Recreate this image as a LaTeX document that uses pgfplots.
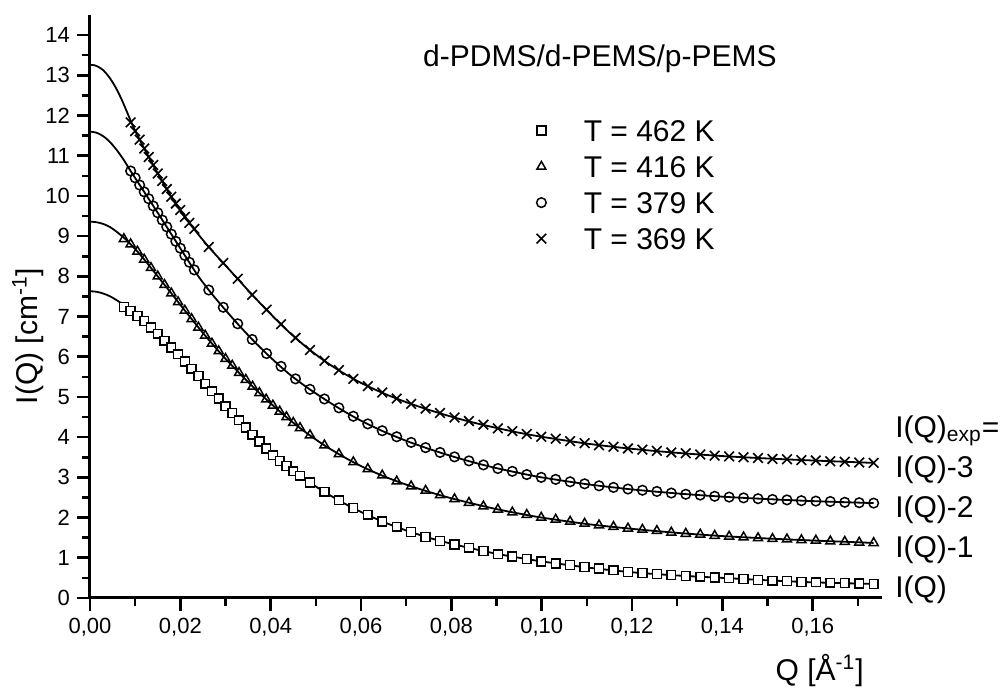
\documentclass[border=0pt]{standalone}
\usepackage{fontspec}
\setmainfont{Liberation Sans}
\usepackage{pgfplots}
\pgfplotsset{compat=1.18}

\begin{document}
\begin{tikzpicture}
\useasboundingbox (-45pt,-46pt) rectangle (456pt,299pt);
\begin{axis}[
    at={(0,0)}, anchor=south west,
    scale only axis,
    width=395.9pt, height=291.5pt,
    xmin=0, xmax=0.1753,
    ymin=0, ymax=14.5,
    clip=false,
    axis lines*=left,
    axis line style={line width=1.5pt},
    xtick={0,0.02,0.04,0.06,0.08,0.1,0.12,0.14,0.16},
    minor xtick={0.01,0.03,0.05,0.07,0.09,0.11,0.13,0.15,0.17},
    ytick={0,1,...,14},
    minor ytick={0.5,1.5,...,13.5},
    tick align=outside,
    major tick length=6.5pt,
    minor tick length=4pt,
    every tick/.style={black, line width=1.3pt},
    scaled x ticks=false,
    /pgf/number format/assume math mode=true,
    xticklabel style={/pgf/number format/.cd, fixed, fixed zerofill, precision=2, use comma},
    tick label style={font=\fontsize{11}{13}\selectfont},
    legend style={at={(axis cs:0.0985,11.92)}, anchor=north west, draw=none, fill=none,
        inner sep=0pt, row sep=6.5pt, font=\fontsize{15}{17}\selectfont,
        nodes={inner sep=0.5pt, text height=10.5pt, text depth=0pt}},
    legend cell align=left,
    legend image code/.code={\draw[#1] plot coordinates {(0cm,0cm)};\path (-0.1cm,0cm) (0.72cm,0cm);},
  ]

  % fit curves
  \addplot[smooth, line width=0.9pt, forget plot] coordinates {
    (0,7.63)(0.0015,7.615)(0.003,7.57)(0.0045,7.50)(0.006,7.40)(0.008,7.25)(0.010,7.08)(0.012,6.89)(0.014,6.68)(0.016,6.46)
    (0.018,6.23)(0.020,6.00)(0.022,5.76)(0.024,5.52)(0.026,5.27)(0.028,5.02)(0.030,4.77)(0.033,4.42)
    (0.036,4.06)(0.040,3.60)(0.044,3.23)(0.048,2.92)(0.052,2.63)(0.056,2.37)(0.060,2.14)(0.065,1.89)
    (0.070,1.68)(0.075,1.50)(0.080,1.35)(0.085,1.22)(0.090,1.10)(0.095,1.00)(0.100,0.91)(0.110,0.76)
    (0.120,0.64)(0.130,0.56)(0.140,0.50)(0.150,0.44)(0.160,0.39)(0.1735,0.35)
  };
  \addplot[smooth, line width=0.9pt, forget plot] coordinates {
    (0,9.36)(0.0015,9.345)(0.003,9.30)(0.0045,9.22)(0.006,9.10)(0.008,8.91)(0.010,8.68)(0.012,8.42)(0.014,8.14)(0.016,7.86)
    (0.018,7.58)(0.020,7.29)(0.022,7.01)(0.024,6.73)(0.026,6.46)(0.028,6.20)(0.030,5.95)(0.033,5.60)
    (0.036,5.26)(0.040,4.84)(0.044,4.45)(0.048,4.10)(0.052,3.79)(0.056,3.52)(0.060,3.28)(0.065,3.03)
    (0.070,2.82)(0.075,2.64)(0.080,2.48)(0.085,2.34)(0.090,2.21)(0.095,2.10)(0.100,2.00)(0.110,1.84)
    (0.120,1.72)(0.130,1.62)(0.140,1.54)(0.150,1.48)(0.160,1.43)(0.1735,1.37)
  };
  \addplot[smooth, line width=0.9pt, forget plot] coordinates {
    (0,11.60)(0.0015,11.57)(0.003,11.48)(0.0045,11.33)(0.006,11.13)(0.0075,10.89)(0.009,10.62)(0.012,10.10)(0.015,9.58)(0.018,9.05)(0.021,8.52)
    (0.024,8.00)(0.027,7.56)(0.030,7.16)(0.033,6.78)(0.036,6.42)(0.040,5.98)(0.044,5.58)(0.048,5.24)
    (0.052,4.94)(0.056,4.66)(0.060,4.41)(0.065,4.14)(0.070,3.91)(0.075,3.71)(0.080,3.53)(0.085,3.37)
    (0.090,3.23)(0.095,3.11)(0.100,3.00)(0.110,2.83)(0.120,2.70)(0.130,2.60)(0.140,2.52)(0.150,2.46)
    (0.160,2.41)(0.1735,2.36)
  };
  \addplot[smooth, line width=0.9pt, forget plot] coordinates {
    (0,13.26)(0.001,13.25)(0.002,13.20)(0.003,13.12)(0.004,12.99)(0.005,12.83)(0.006,12.63)(0.007,12.40)(0.008,12.14)(0.009,11.87)(0.010,11.62)(0.012,11.18)(0.015,10.56)(0.018,9.98)(0.021,9.48)
    (0.024,9.04)(0.027,8.64)(0.030,8.27)(0.033,7.90)(0.036,7.53)(0.040,7.06)(0.044,6.62)(0.048,6.23)
    (0.052,5.89)(0.056,5.60)(0.060,5.35)(0.065,5.09)(0.070,4.87)(0.075,4.68)(0.080,4.51)(0.085,4.36)
    (0.090,4.23)(0.095,4.11)(0.100,4.01)(0.110,3.84)(0.120,3.71)(0.130,3.61)(0.140,3.53)(0.150,3.47)
    (0.160,3.42)(0.1735,3.36)
  };

  % data, T = 462 K
  \addplot[only marks, mark=square*, mark size=2.2pt, mark options={fill=white, draw=black, line width=0.75pt}] coordinates {
    (0.0075,7.24)(0.0090,7.14)(0.0105,7.01)(0.0120,6.89)(0.0135,6.73)(0.0150,6.57)(0.0165,6.40)(0.0180,6.23)
    (0.0195,6.06)(0.0210,5.88)(0.0225,5.70)(0.0240,5.52)(0.0255,5.33)(0.0270,5.14)(0.0285,4.96)(0.0300,4.77)
    (0.0315,4.60)(0.0330,4.42)(0.0345,4.24)(0.0360,4.06)(0.0375,3.89)(0.0390,3.72)(0.0405,3.55)(0.0420,3.41)
    (0.0435,3.28)(0.0450,3.15)(0.0465,3.04)
    (0.0487,2.87)(0.0519,2.64)(0.0551,2.43)(0.0583,2.24)(0.0615,2.07)(0.0647,1.90)(0.0679,1.77)(0.0711,1.64)
    (0.0743,1.52)(0.0775,1.42)(0.0807,1.33)(0.0839,1.25)(0.0871,1.17)(0.0903,1.09)(0.0935,1.03)(0.0967,0.97)
    (0.0999,0.91)(0.1031,0.86)(0.1063,0.82)(0.1095,0.77)(0.1127,0.73)(0.1159,0.69)(0.1191,0.65)(0.1223,0.62)
    (0.1255,0.60)(0.1287,0.57)(0.1319,0.55)(0.1351,0.53)(0.1383,0.51)(0.1415,0.49)(0.1447,0.47)(0.1479,0.45)
    (0.1511,0.43)(0.1543,0.42)(0.1575,0.40)(0.1607,0.39)(0.1639,0.38)(0.1671,0.37)(0.1703,0.36)(0.1735,0.35)
  };
  \addlegendentry{T = 462 K}

  % data, T = 416 K
  \addplot[only marks, mark=triangle, mark size=2.6pt, mark options={draw=black, line width=0.75pt}] coordinates {
    (0.0075,8.93)(0.0090,8.80)(0.0105,8.62)(0.0120,8.42)(0.0135,8.21)(0.0150,8.00)(0.0165,7.79)(0.0180,7.58)
    (0.0195,7.36)(0.0210,7.15)(0.0225,6.94)(0.0240,6.73)(0.0255,6.53)(0.0270,6.33)(0.0285,6.14)(0.0300,5.95)
    (0.0315,5.78)(0.0330,5.60)(0.0345,5.43)(0.0360,5.26)(0.0375,5.10)(0.0390,4.94)(0.0405,4.79)(0.0420,4.64)
    (0.0435,4.50)(0.0450,4.36)(0.0465,4.23)
    (0.0487,4.05)(0.0519,3.80)(0.0551,3.58)(0.0583,3.38)(0.0615,3.21)(0.0647,3.05)(0.0679,2.90)(0.0711,2.78)
    (0.0743,2.67)(0.0775,2.56)(0.0807,2.46)(0.0839,2.37)(0.0871,2.28)(0.0903,2.20)(0.0935,2.13)(0.0967,2.07)
    (0.0999,2.00)(0.1031,1.95)(0.1063,1.90)(0.1095,1.85)(0.1127,1.81)(0.1159,1.77)(0.1191,1.73)(0.1223,1.70)
    (0.1255,1.67)(0.1287,1.63)(0.1319,1.60)(0.1351,1.58)(0.1383,1.55)(0.1415,1.53)(0.1447,1.51)(0.1479,1.49)
    (0.1511,1.47)(0.1543,1.46)(0.1575,1.44)(0.1607,1.43)(0.1639,1.41)(0.1671,1.40)(0.1703,1.38)(0.1735,1.37)
  };
  \addlegendentry{T = 416 K}

  % data, T = 379 K
  \addplot[only marks, mark=o, mark size=2.4pt, mark options={draw=black, line width=0.75pt}] coordinates {
    (0.009,10.62)(0.010,10.45)(0.011,10.27)(0.012,10.10)(0.013,9.93)(0.014,9.75)(0.015,9.58)(0.016,9.40)
    (0.017,9.23)(0.018,9.05)(0.019,8.87)(0.020,8.70)(0.021,8.52)(0.022,8.35)
    (0.0231,8.16)(0.0263,7.66)(0.0295,7.23)(0.0327,6.82)(0.0359,6.43)(0.0391,6.08)(0.0423,5.76)(0.0455,5.45)
    (0.0487,5.19)(0.0519,4.95)(0.0551,4.73)(0.0583,4.52)(0.0615,4.33)(0.0647,4.16)(0.0679,4.01)(0.0711,3.87)
    (0.0743,3.74)(0.0775,3.62)(0.0807,3.51)(0.0839,3.41)(0.0871,3.31)(0.0903,3.22)(0.0935,3.15)(0.0967,3.07)
    (0.0999,3.00)(0.1031,2.95)(0.1063,2.89)(0.1095,2.84)(0.1127,2.79)(0.1159,2.75)(0.1191,2.71)(0.1223,2.68)
    (0.1255,2.65)(0.1287,2.61)(0.1319,2.58)(0.1351,2.56)(0.1383,2.53)(0.1415,2.51)(0.1447,2.49)(0.1479,2.47)
    (0.1511,2.45)(0.1543,2.44)(0.1575,2.42)(0.1607,2.41)(0.1639,2.40)(0.1671,2.38)(0.1703,2.37)(0.1735,2.36)
  };
  \addlegendentry{T = 379 K}

  % data, T = 369 K
  \addplot[only marks, mark=x, mark size=3.4pt, mark options={draw=black, line width=0.8pt}] coordinates {
    (0.009,11.83)(0.010,11.61)(0.011,11.40)(0.012,11.18)(0.013,10.97)(0.014,10.77)(0.015,10.56)(0.016,10.37)
    (0.017,10.17)(0.018,9.98)(0.019,9.81)(0.020,9.65)(0.021,9.48)(0.022,9.33)
    (0.0231,9.18)(0.0263,8.73)(0.0295,8.33)(0.0327,7.94)(0.0359,7.54)(0.0391,7.17)(0.0423,6.81)(0.0455,6.47)
    (0.0487,6.17)(0.0519,5.90)(0.0551,5.67)(0.0583,5.45)(0.0615,5.27)(0.0647,5.11)(0.0679,4.96)(0.0711,4.83)
    (0.0743,4.71)(0.0775,4.60)(0.0807,4.49)(0.0839,4.40)(0.0871,4.31)(0.0903,4.22)(0.0935,4.15)(0.0967,4.08)
    (0.0999,4.01)(0.1031,3.96)(0.1063,3.90)(0.1095,3.85)(0.1127,3.80)(0.1159,3.76)(0.1191,3.72)(0.1223,3.69)
    (0.1255,3.66)(0.1287,3.62)(0.1319,3.60)(0.1351,3.57)(0.1383,3.54)(0.1415,3.52)(0.1447,3.50)(0.1479,3.48)
    (0.1511,3.46)(0.1543,3.45)(0.1575,3.43)(0.1607,3.42)(0.1639,3.40)(0.1671,3.39)(0.1703,3.37)(0.1735,3.36)
  };
  \addlegendentry{T = 369 K}

  % texts
  \node[anchor=base, font=\fontsize{15}{18}\selectfont] at (axis cs:0.1129,13.21) {d-PDMS/d-PEMS/p-PEMS};
  \node[anchor=base west, inner sep=0pt, font=\fontsize{15}{18}\selectfont] at (axis cs:0.1782,4.00) {I(Q)\textsubscript{exp}=};
  \node[anchor=base west, inner sep=0pt, font=\fontsize{15}{18}\selectfont] at (axis cs:0.1782,2.99) {I(Q)-3};
  \node[anchor=base west, inner sep=0pt, font=\fontsize{15}{18}\selectfont] at (axis cs:0.1782,1.99) {I(Q)-2};
  \node[anchor=base west, inner sep=0pt, font=\fontsize{15}{18}\selectfont] at (axis cs:0.1782,0.995) {I(Q)-1};
  \node[anchor=base west, inner sep=0pt, font=\fontsize{15}{18}\selectfont] at (axis cs:0.1782,0) {I(Q)};
  \node[anchor=base west, inner sep=0pt, font=\fontsize{15}{17}\selectfont] at (axis cs:0.1517,-2.04) {Q [Å\textsuperscript{-1}]};
  \node[anchor=base, rotate=90, inner sep=0pt, font=\fontsize{15}{18}\selectfont] at (axis cs:-0.0117,6.52) {I(Q) [cm\textsuperscript{-1}]};
\end{axis}
\end{tikzpicture}
\end{document}
